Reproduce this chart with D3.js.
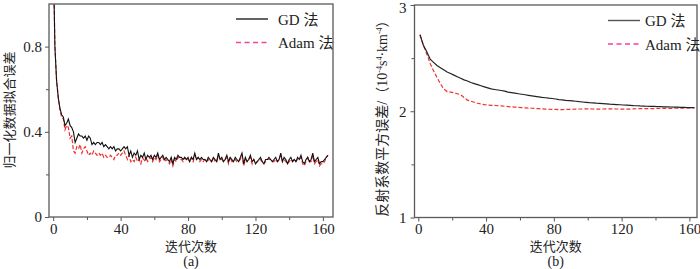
<!DOCTYPE html>
<html>
<head>
<meta charset="utf-8">
<script src="https://cdn.jsdelivr.net/npm/d3@7"></script>
<style>
  body { margin: 0; background: #fff; }
  svg text { fill: #222; }
</style>
</head>
<body>
<div id="graf"></div>
<script>
// Datos de las dos gráficas
// (a) error de ajuste normalizado, una muestra por iteración (0..163)
iterA = d3.range(0, 164)
gdA = [
  1.25,0.80,0.64,0.56,0.51,0.48,0.47,0.43,0.44,0.46,
  0.43,0.42,0.40,0.35,0.37,0.39,0.38,0.38,0.37,0.38,
  0.36,0.38,0.37,0.34,0.35,0.34,0.35,0.35,0.34,0.35,
  0.33,0.34,0.33,0.32,0.33,0.32,0.33,0.31,0.32,0.32,
  0.31,0.32,0.33,0.32,0.33,0.29,0.31,0.28,0.30,0.29,
  0.31,0.27,0.29,0.28,0.30,0.27,0.29,0.28,0.29,0.27,
  0.29,0.28,0.30,0.27,0.28,0.29,0.27,0.28,0.27,0.26,
  0.28,0.25,0.28,0.27,0.29,0.28,0.28,0.27,0.28,0.27,
  0.28,0.26,0.28,0.27,0.30,0.27,0.28,0.27,0.28,0.27,
  0.27,0.26,0.28,0.27,0.26,0.28,0.27,0.26,0.30,0.27,
  0.28,0.26,0.27,0.29,0.26,0.28,0.27,0.26,0.28,0.27,
  0.26,0.28,0.30,0.25,0.28,0.26,0.27,0.29,0.26,0.27,
  0.25,0.26,0.27,0.28,0.26,0.25,0.27,0.27,0.28,0.27,
  0.26,0.27,0.28,0.26,0.27,0.30,0.26,0.28,0.27,0.25,
  0.27,0.28,0.26,0.27,0.26,0.28,0.27,0.29,0.26,0.25,
  0.27,0.28,0.26,0.27,0.30,0.26,0.27,0.28,0.25,0.26,
  0.26,0.27,0.28,0.29
]
adamA = [
  1.25,0.80,0.64,0.56,0.50,0.47,0.46,0.41,0.43,0.42,
  0.37,0.38,0.31,0.30,0.33,0.32,0.34,0.30,0.32,0.33,
  0.31,0.29,0.30,0.29,0.31,0.30,0.29,0.30,0.29,0.30,
  0.28,0.29,0.28,0.28,0.29,0.28,0.27,0.29,0.29,0.30,
  0.29,0.30,0.31,0.29,0.27,0.29,0.26,0.27,0.26,0.28,
  0.26,0.27,0.25,0.28,0.26,0.28,0.26,0.27,0.28,0.26,
  0.28,0.27,0.29,0.26,0.27,0.28,0.26,0.27,0.26,0.25,
  0.27,0.24,0.27,0.26,0.28,0.27,0.27,0.26,0.28,0.27,
  0.27,0.26,0.28,0.26,0.29,0.27,0.28,0.26,0.27,0.26,
  0.27,0.26,0.27,0.26,0.26,0.28,0.26,0.26,0.29,0.27,
  0.27,0.26,0.27,0.28,0.25,0.28,0.26,0.26,0.27,0.26,
  0.26,0.27,0.29,0.24,0.27,0.26,0.27,0.28,0.25,0.27,
  0.25,0.26,0.26,0.27,0.26,0.25,0.26,0.27,0.27,0.27,
  0.26,0.26,0.27,0.26,0.27,0.29,0.26,0.27,0.26,0.25,
  0.26,0.27,0.26,0.27,0.26,0.27,0.27,0.28,0.25,0.24,
  0.26,0.28,0.26,0.26,0.29,0.25,0.26,0.27,0.24,0.25,
  0.25,0.26,0.28,0.29
]

// (b) error cuadrático de reflectividad, iteraciones impares 1..163
iterB = d3.range(1, 164, 2)
gdB = [
  2.72,2.62,2.56,2.49,2.46,2.43,2.41,2.39,2.37,2.355,
  2.34,2.325,2.31,2.295,2.285,2.27,2.26,2.25,2.24,2.23,
  2.22,2.21,2.205,2.20,2.195,2.19,2.18,2.175,2.17,2.165,
  2.16,2.155,2.15,2.145,2.14,2.135,2.13,2.127,2.123,2.12,
  2.115,2.11,2.107,2.103,2.10,2.097,2.094,2.09,2.087,2.084,
  2.081,2.079,2.076,2.074,2.072,2.07,2.067,2.065,2.063,2.061,
  2.059,2.057,2.055,2.053,2.052,2.05,2.049,2.047,2.046,2.045,
  2.044,2.043,2.042,2.041,2.04,2.039,2.038,2.037,2.036,2.035,
  2.034,2.034
]
adamB = [
  2.72,2.62,2.54,2.45,2.38,2.32,2.26,2.21,2.185,2.18,
  2.175,2.165,2.155,2.13,2.105,2.095,2.085,2.075,2.068,2.062,
  2.058,2.056,2.055,2.052,2.05,2.047,2.044,2.041,2.039,2.037,
  2.034,2.032,2.03,2.028,2.026,2.024,2.022,2.02,2.019,2.018,
  2.017,2.016,2.016,2.017,2.018,2.019,2.02,2.021,2.021,2.022,
  2.022,2.021,2.02,2.02,2.021,2.022,2.023,2.022,2.021,2.021,
  2.02,2.02,2.02,2.022,2.024,2.025,2.025,2.024,2.024,2.025,
  2.026,2.026,2.027,2.027,2.028,2.028,2.029,2.029,2.03,2.031,
  2.031,2.032
]

// Marcas de los ejes
ticksX  = [0, 40, 80, 120, 160]
minorX  = [20, 60, 100, 140]
ticksYA = [0, 0.4, 0.8]
minorYA = [0.2, 0.6]
ticksYB = [1, 2, 3]
minorYB = [1.5, 2.5]

serif = "'Liberation Serif', 'Times New Roman', serif"
cjk   = "'Noto Sans CJK SC', sans-serif"
mix   = "'Liberation Serif', 'Noto Sans CJK SC', serif"
rojo  = '#f03232'
rosa  = '#ff3ca0'

svg = d3.select('#graf').append('svg')
        .attr('width', 700)
        .attr('height', 269)

function panel(p) {
  x = d3.scaleLinear().domain(p.xDom).range([p.left, p.right])
  y = d3.scaleLinear().domain(p.yDom).range([p.bottom, p.top])

  g = svg.append('g')

  // recorte para que las curvas no salgan del marco
  g.append('clipPath').attr('id', p.id + '-clip')
    .append('rect')
    .attr('x', p.left).attr('y', p.top)
    .attr('width', p.right - p.left).attr('height', p.bottom - p.top)

  // ejes
  xAxis = g.append('g').attr('transform', `translate(0, ${p.bottom})`)
  xAxis.call(d3.axisBottom(x).tickValues(ticksX).tickSize(4).tickPadding(2).tickSizeOuter(0))
  xAxis.append('g').call(d3.axisBottom(x).tickValues(minorX).tickSize(3).tickFormat('').tickSizeOuter(0))

  yAxis = g.append('g').attr('transform', `translate(${p.left}, 0)`)
  yAxis.call(d3.axisLeft(y).tickValues(p.yTicks).tickSize(4).tickPadding(p.yPad)
                .tickFormat(d3.format(p.yFmt)).tickSizeOuter(0))
  yAxis.append('g').call(d3.axisLeft(y).tickValues(p.yMinor).tickSize(3).tickFormat('').tickSizeOuter(0))

  // la etiqueta superior baja un poco para que no se corte
  yAxis.selectAll('.tick text')
    .filter(d => d === p.yDom[1])
    .attr('dy', '0.5em')

  g.selectAll('.domain').remove()
  g.selectAll('.tick line').attr('stroke', '#555').attr('stroke-width', 1)
  g.selectAll('.tick text')
    .style('font-family', serif)
    .style('font-size', '15px')
    .attr('fill', '#222')

  // curvas
  lineaGen = d3.line()
               .x(d => x(d[0]))
               .y(d => y(d[1]))

  g.append('path')
    .attr('clip-path', `url(#${p.id}-clip)`)
    .attr('fill', 'none')
    .attr('stroke', rojo)
    .attr('stroke-width', 1.2)
    .attr('stroke-dasharray', '4,2')
    .attr('d', lineaGen(d3.zip(p.iters, p.adam)))

  g.append('path')
    .attr('clip-path', `url(#${p.id}-clip)`)
    .attr('fill', 'none')
    .attr('stroke', p.gdColor)
    .attr('stroke-width', p.gdWidth)
    .attr('d', lineaGen(d3.zip(p.iters, p.gd)))

  // marco
  g.append('rect')
    .attr('x', p.left).attr('y', p.top)
    .attr('width', p.right - p.left).attr('height', p.bottom - p.top)
    .attr('fill', 'none')
    .attr('stroke', '#5a5a5a')
    .attr('stroke-width', 1.3)

  // leyenda
  lg = g.append('g')
  lg.append('line')
    .attr('x1', p.legX).attr('x2', p.legX + 32)
    .attr('y1', p.legY).attr('y2', p.legY)
    .attr('stroke', p.legGd).attr('stroke-width', 1.4)
  lg.append('line')
    .attr('x1', p.legX).attr('x2', p.legX + 32)
    .attr('y1', p.legY + 23.5).attr('y2', p.legY + 23.5)
    .attr('stroke', rosa).attr('stroke-width', 1.4)
    .attr('stroke-dasharray', '5,3.5')
  lg.append('text')
    .attr('x', p.legX + p.legGap).attr('y', p.legY + 5.5)
    .style('font-family', mix).style('font-size', '15px')
    .text('GD 法')
  lg.append('text')
    .attr('x', p.legX + p.legGap).attr('y', p.legY + 29)
    .style('font-family', mix).style('font-size', '15px')
    .text('Adam 法')

  // títulos
  cx = (p.left + p.right) / 2
  g.append('text')
    .attr('x', cx).attr('y', 251)
    .attr('text-anchor', 'middle')
    .style('font-family', cjk).style('font-size', '13px')
    .attr('fill', '#333')
    .text('迭代次数')
  g.append('text')
    .attr('x', cx).attr('y', 266)
    .attr('text-anchor', 'middle')
    .style('font-family', serif).style('font-size', '14px')
    .text(p.label)

  return g
}

panel({
  id: 'a', left: 49, right: 333, top: 4, bottom: 217,
  xDom: [-2.5, 166], yDom: [0, 1],
  yTicks: ticksYA, yMinor: minorYA, yFmt: '', yPad: 3,
  iters: iterA, gd: gdA, adam: adamA,
  gdColor: '#111', gdWidth: 1.1,
  legX: 236, legY: 19, legGap: 42, legGd: '#222',
  label: '(a)'
})

panel({
  id: 'b', left: 414.5, right: 697, top: 5, bottom: 217.5,
  xDom: [-2.25, 164.5], yDom: [1, 3],
  yTicks: ticksYB, yMinor: minorYB, yFmt: 'd', yPad: 4,
  iters: iterB, gd: gdB, adam: adamB,
  gdColor: '#222', gdWidth: 1.2,
  legX: 608, legY: 20.5, legGap: 37, legGd: '#555',
  label: '(b)'
})

// títulos verticales
svg.append('text')
  .attr('transform', 'translate(14, 110) rotate(-90)')
  .attr('text-anchor', 'middle')
  .style('font-family', cjk).style('font-size', '13px')
  .attr('fill', '#333')
  .text('归一化数据拟合误差')

yt = svg.append('text')
  .attr('transform', 'translate(387, 115) rotate(-90)')
  .attr('text-anchor', 'middle')
  .style('font-family', mix).style('font-size', '14px')
  .attr('fill', '#333')
yt.append('tspan').text('反射系数平方误差/（10')
yt.append('tspan').attr('dy', -5).style('font-size', '8px').text('-4')
yt.append('tspan').attr('dy', 5).text('s')
yt.append('tspan').attr('dy', -5).style('font-size', '8px').text('4')
yt.append('tspan').attr('dy', 5).text('·km')
yt.append('tspan').attr('dy', -5).style('font-size', '8px').text('-4')
yt.append('tspan').attr('dy', 5).text('）')
</script>
</body>
</html>
